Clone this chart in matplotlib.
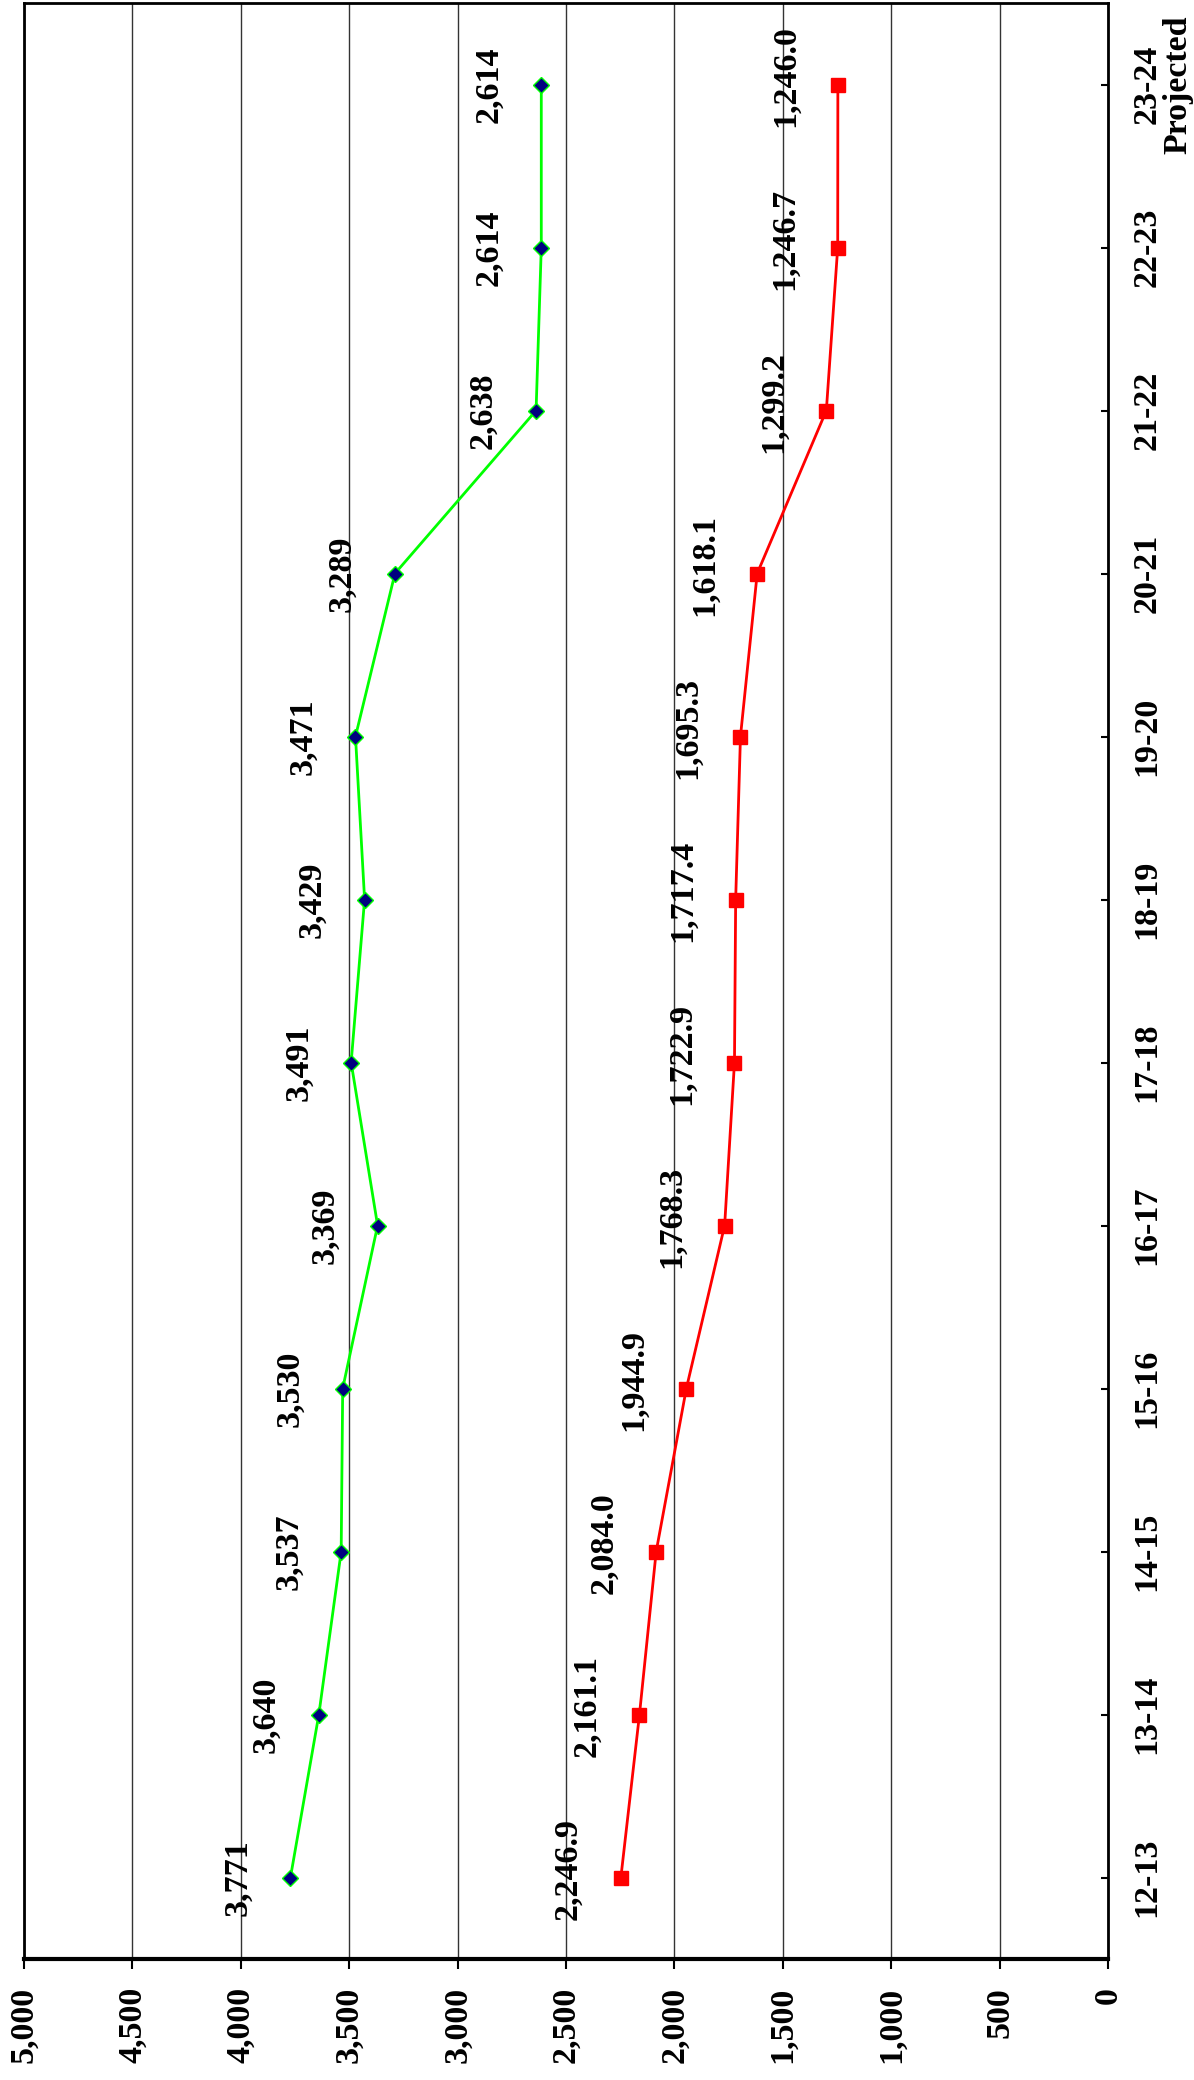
import matplotlib
matplotlib.use("Agg")
import matplotlib.pyplot as plt
import numpy as np

categories = ["12-13", "13-14", "14-15", "15-16", "16-17", "17-18",
              "18-19", "19-20", "20-21", "21-22", "22-23", "23-24\nProjected"]
green_vals = [3771, 3640, 3537, 3530, 3369, 3491, 3429, 3471, 3289, 2638, 2614, 2614]
red_vals = [2246.9, 2161.1, 2084.0, 1944.9, 1768.3, 1722.9, 1717.4, 1695.3,
            1618.1, 1299.2, 1246.7, 1246.0]
value_ticks = [0, 500, 1000, 1500, 2000, 2500, 3000, 3500, 4000, 4500, 5000]

plt.rcParams['font.family'] = ['Liberation Serif', 'DejaVu Serif']
plt.rcParams['font.weight'] = 'bold'

FS = 24.5
W, H = 1194, 2080
fig = plt.figure(figsize=(W / 100, H / 100), dpi=100)
ax = fig.add_axes([24 / W, (H - 1959) / H, (1108 - 24) / W, (1959 - 3) / H])

pos = np.arange(len(categories))

ax.plot(green_vals, pos, color='#00FF00', lw=2, marker='D', ms=8,
        markerfacecolor='#000080', markeredgecolor='#00FF00', mew=1, zorder=3)
ax.plot(red_vals, pos, color='#FF0000', lw=2, marker='s', ms=10,
        markerfacecolor='#FF0000', markeredgecolor='#FF0000', zorder=3)

for v, p in zip(green_vals, pos):
    ax.annotate(f"{v:,.0f}", (v, p), xytext=(-38, 0), textcoords='offset points',
                rotation=90, ha='center', va='center', fontsize=FS, fontweight='bold')
for v, p in zip(red_vals, pos):
    ax.annotate(f"{v:,.1f}", (v, p), xytext=(-38, 6), textcoords='offset points',
                rotation=90, ha='center', va='center', fontsize=FS, fontweight='bold')

ax.set_xlim(5000, 0)
ax.set_ylim(-0.5, len(categories) - 0.5)

ax.set_xticks(value_ticks)
ax.set_xticklabels([f"{t:,}" for t in value_ticks], rotation=90, fontsize=FS,
                   fontweight='bold', va='top', ha='center')
ax.tick_params(axis='x', direction='out', length=7, width=1.5, pad=13)

ax.yaxis.tick_right()
ax.set_yticks(pos)
ax.set_yticklabels(categories, rotation=90, fontsize=FS, fontweight='bold',
                   va='center', ha='left', multialignment='center', linespacing=1.0)
ax.tick_params(axis='y', direction='in', length=5, width=1.5, pad=17)

ax.grid(axis='x', color='#333333', lw=1)
ax.set_axisbelow(True)
for s in ['left', 'right', 'top']:
    ax.spines[s].set_linewidth(2)
ax.spines['bottom'].set_linewidth(3)

fig.savefig("out.png", dpi=100)
